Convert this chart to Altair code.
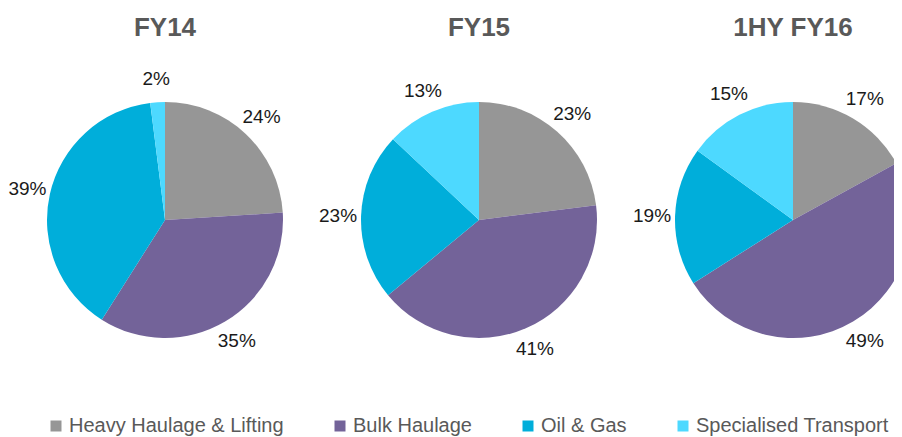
import altair as alt
import pandas as pd

years = ["FY14", "FY15", "1HY FY16"]
segments = ["Heavy Haulage & Lifting", "Bulk Haulage", "Oil & Gas", "Specialised Transport"]
fy14 = [24, 35, 39, 2]
fy15 = [23, 41, 23, 13]
fy16 = [17, 49, 19, 15]
colors = ["#969696", "#736399", "#00AEDA", "#4DD9FF"]

rows = []
for yr, vals in zip(years, [fy14, fy15, fy16]):
    for i, (seg, v) in enumerate(zip(segments, vals)):
        rows.append({"year": yr, "segment": seg, "value": v, "order": i, "label": f"{v}%"})
df = pd.DataFrame(rows)

FONT = "Liberation Sans"

xenc = alt.X("year:N", scale=alt.Scale(type="point", domain=years, range=[157, 785], padding=0), axis=None)

base = alt.Chart(df).transform_window(
    end="sum(value)", groupby=["year"], sort=[alt.SortField("order")], frame=[None, 0]
).transform_calculate(
    start="datum.end - datum.value", mid="datum.end - datum.value / 2"
)

theta_scale = alt.Scale(domain=[0, 100])

pies = base.mark_arc(clip=True, stroke=None).encode(
    x=xenc,
    y=alt.value(212),
    theta=alt.Theta("start:Q", scale=theta_scale, stack=None),
    theta2="end:Q",
    radius=alt.value(118),
    color=alt.Color(
        "segment:N",
        scale=alt.Scale(domain=segments, range=colors),
        legend=alt.Legend(
            title=None,
            orient="none",
            legendX=38,
            legendY=408,
            direction="horizontal",
            symbolType="square",
            symbolSize=121,
            symbolStrokeWidth=0,
            labelFontSize=20,
            labelFont=FONT,
            labelColor="#595959",
            labelLimit=400,
            labelOffset=3,
            columnPadding=46,
        ),
    ),
    order=alt.Order("order:Q"),
)

labels = base.mark_text(fontSize=19, font=FONT, color="#1a1a1a").encode(
    x=xenc,
    y=alt.value(212),
    theta=alt.Theta("mid:Q", scale=theta_scale, stack=None),
    radius=alt.value(141),
    text="label:N",
)

title_df = pd.DataFrame({"year": years})
titles = alt.Chart(title_df).mark_text(
    fontSize=26, fontWeight="bold", font=FONT, color="#595959", baseline="alphabetic"
).encode(
    x=xenc,
    y=alt.value(28),
    text="year:N",
)

chart = alt.layer(pies, labels, titles).properties(
    width=886, height=429, padding=0, autosize=alt.AutoSizeParams(type="none")
).configure_view(stroke=None)

chart.save("out.html", embed_options={"renderer": "svg", "actions": False})
